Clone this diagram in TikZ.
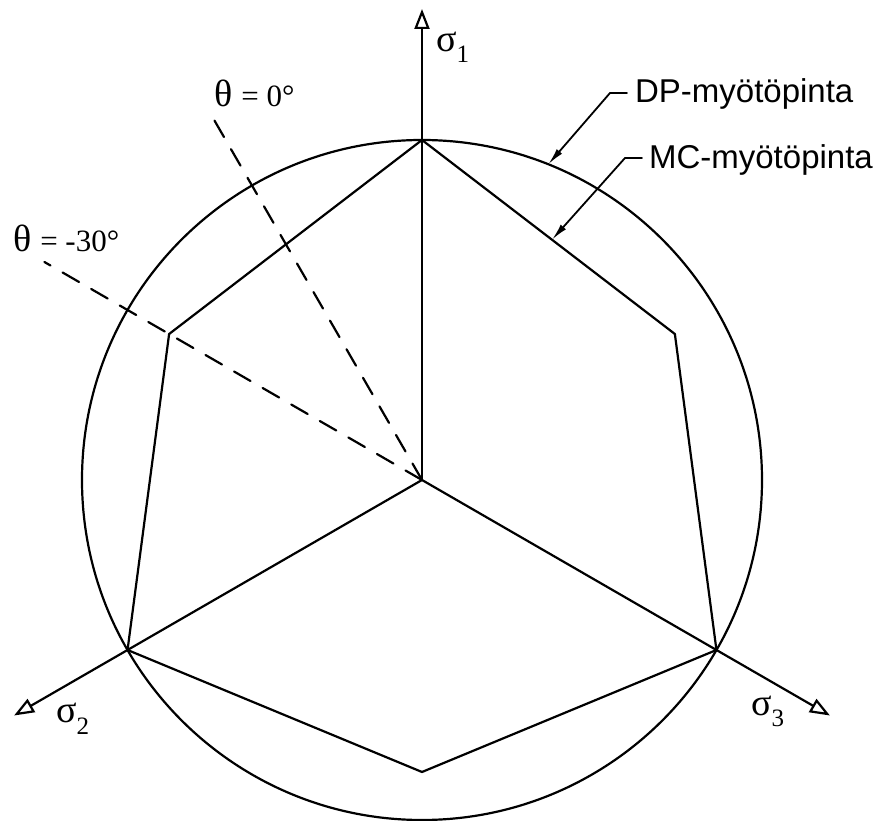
\documentclass[tikz,border=0pt]{standalone}
\usepackage{fontspec}
\setmainfont{Liberation Serif}
\newfontfamily\calloutfont{Liberation Sans}
\usetikzlibrary{arrows.meta,calc}

\tikzset{
  axis/.style={-{Triangle[open,length=20pt,width=15pt]}},
  meridian/.style={dash pattern=on 19pt off 14pt},
  leader/.style={line width=1.8pt, -{Latex[length=17pt,width=7pt]}},
  callout/.style={font=\calloutfont\fontsize{33}{33}\selectfont, inner sep=0pt, anchor=base west},
  greek/.style={font=\fontsize{38}{38}\selectfont, inner sep=0pt, anchor=base west},
}
\newcommand{\sig}[1]{σ\raisebox{-11pt}{\fontsize{25}{25}\selectfont #1}}
\newcommand{\thetalabel}[2]{{\fontsize{38}{38}\selectfont θ}\hspace{9pt}{\fontsize{#1}{#1}\selectfont = #2°}}

\begin{document}
\begin{tikzpicture}[line width=2.2pt, line cap=round, line join=round, x=1pt, y=1pt]
  \useasboundingbox (-422,-341) rectangle (456,480);
  \coordinate (O) at (0,0);
  % DP-ympyrä ja MC-kuusikulmio
  \draw (O) circle (340);
  \coordinate (c1) at (90:340);
  \coordinate (c2) at (210:340);
  \coordinate (c3) at (330:340);
  \coordinate (t1) at (30:292);
  \coordinate (t2) at (150:292);
  \coordinate (t3) at (270:292);
  \draw (c1) -- (t1) -- (c3) -- (t3) -- (c2) -- (t2) -- cycle;
  % pääjännitysakselit
  \draw[axis] (O) -- (90:471) coordinate (s1);
  \draw[axis] (O) -- (210:471) coordinate (s2);
  \draw[axis] (O) -- (330:471) coordinate (s3);
  \node[greek] (s1lab) at (13,428) {\sig{1}};
  \node[greek] (s2lab) at (-367,-243) {\sig{2}};
  \node[greek] (s3lab) at (328,-235) {\sig{3}};
  % Loden kulma
  \draw[meridian] (O) -- (120:418) coordinate (m0);
  \draw[meridian] (O) -- (150:436) coordinate (m30);
  \node[inner sep=0pt, anchor=base west] (th0) at (-209,373) {\thetalabel{31}{0}};
  \node[inner sep=0pt, anchor=base west] (th30) at (-410,228) {\thetalabel{31}{-30}};
  % selitteet
  \coordinate (dptip) at (68.2:340);
  \coordinate (mctip) at ($(c1)!0.514!(t1)$);
  \node[callout] (dp) at (212,377) {DP-myötöpinta};
  \node[callout] (mc) at (226,311) {MC-myötöpinta};
  \draw[leader] ($(dp.base west)+(-7,10)$) -- ++(-17,0) -- (dptip);
  \draw[leader] ($(mc.base west)+(-6,11)$) -- ++(-17,0) -- (mctip);
\end{tikzpicture}
\end{document}
